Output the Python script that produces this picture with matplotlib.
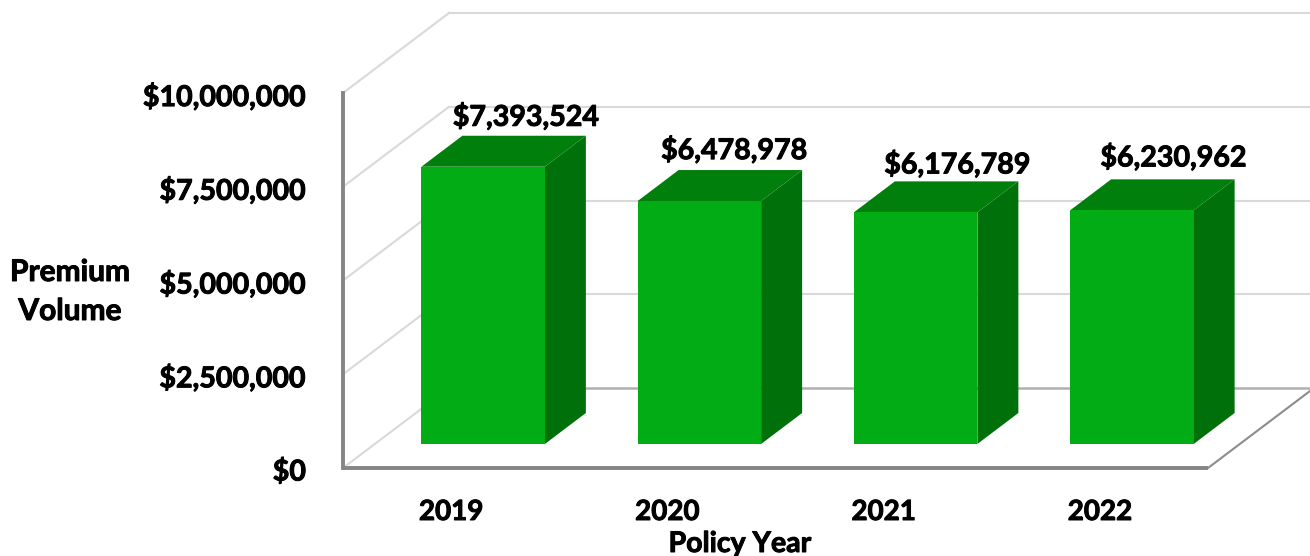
import matplotlib
matplotlib.use('Agg')
import matplotlib.pyplot as plt
import matplotlib.patheffects as pe
from matplotlib.patches import Polygon

plt.rcParams['font.family'] = ['Lato', 'DejaVu Sans']

years = ['2019', '2020', '2021', '2022']
premium = [7393524, 6478978, 6176789, 6230962]
tick_values = [0, 2500000, 5000000, 7500000, 10000000]
tick_labels = ['$0', '$2,500,000', '$5,000,000', '$7,500,000', '$10,000,000']

W, H = 1310, 556
# hand tuned nudges for the value labels, in pixels
label_dx = [43, 35, 42, 42]
label_dy = [19, 20, 17, 22]

# Lato bold is a bit thin next to the reference, thicken it slightly
heavy = [pe.withStroke(linewidth=0.7, foreground='black')]

fig = plt.figure(figsize=(W / 100, H / 100), dpi=100)
ax = fig.add_axes([343 / W, (H - 468) / H, 865 / W, 375 / H])
ax.set_xlim(0, 4)
ax.set_ylim(0, 10000000)
ax.axis('off')

# depth of the fake 3d box, in data units
px_x = 4 / 865
px_y = 10000000 / 375
depth_x = 106 * px_x
depth_y = 80 * px_y
# bars sit part way into the floor
bar_x = 32 * px_x
bar_y = 24 * px_y
bar_dx = 41 * px_x
bar_dy = 31 * px_y
bar_w = 123.5 * px_x

grid_col = '#d9d9d9'
for v in tick_values:
    ax.plot([0, depth_x], [v, v + depth_y], color=grid_col, lw=1.5, clip_on=False, zorder=1)
    if v > 0:
        ax.plot([depth_x, 4 + depth_x], [v + depth_y, v + depth_y], color=grid_col, lw=1.5,
                clip_on=False, zorder=1)
ax.plot([depth_x, 4 + depth_x], [depth_y, depth_y], color='#b0b0b0', lw=1.8, clip_on=False, zorder=1)
ax.plot([4, 4 + depth_x], [0, depth_y], color='#8c8c8c', lw=1.5, clip_on=False, zorder=1)

# main axis lines
ax.plot([0, 0], [0, 10000000], color='#858585', lw=2.8, clip_on=False, zorder=2,
        solid_capstyle='projecting')
ax.plot([0, 4], [0, 0], color='#858585', lw=2.8, clip_on=False, zorder=2,
        solid_capstyle='butt')

for i, val in enumerate(premium):
    x0 = i + 0.5 - bar_w / 2 + bar_x
    x1 = x0 + bar_w
    y0 = bar_y
    y1 = bar_y + val
    ax.add_patch(Polygon([(x1, y0), (x1 + bar_dx, y0 + bar_dy), (x1 + bar_dx, y1 + bar_dy), (x1, y1)],
                         fc='#00700a', ec='none', clip_on=False, zorder=3))
    ax.add_patch(Polygon([(x0, y1), (x0 + bar_dx, y1 + bar_dy), (x1 + bar_dx, y1 + bar_dy), (x1, y1)],
                         fc='#017f0c', ec='none', clip_on=False, zorder=3))
    ax.add_patch(Polygon([(x0, y0), (x1, y0), (x1, y1), (x0, y1)],
                         fc='#01ac14', ec='none', clip_on=False, zorder=4))
    ax.text((x0 + x1) / 2 + label_dx[i] * px_x, y1 + bar_dy + label_dy[i] * px_y, f'${val:,}',
            ha='center', va='center', fontsize=20.6, fontweight='bold', color='black', zorder=5,
            path_effects=heavy)

for v, lab in zip(tick_values, tick_labels):
    ax.text(-37 * px_x, v - 4 * px_y, lab, ha='right', va='center', fontsize=20.6,
            fontweight='bold', color='black', path_effects=heavy)

for i, year in enumerate(years):
    ax.text(i + 0.5, -44 * px_y, year, ha='center', va='center', fontsize=20,
            fontweight='bold', color='black', path_effects=heavy)

fig.text(740 / W, 1 - 544 / H, 'Policy Year', ha='center', va='center', fontsize=20.5,
         fontweight='bold', color='black', path_effects=heavy)
fig.text(70 / W, 1 - 272 / H, 'Premium', ha='center', va='center', fontsize=21.5,
         fontweight='bold', color='black', path_effects=heavy)
fig.text(70 / W, 1 - 311 / H, 'Volume', ha='center', va='center', fontsize=21.5,
         fontweight='bold', color='black', path_effects=heavy)

fig.savefig('out.png', dpi=100)
